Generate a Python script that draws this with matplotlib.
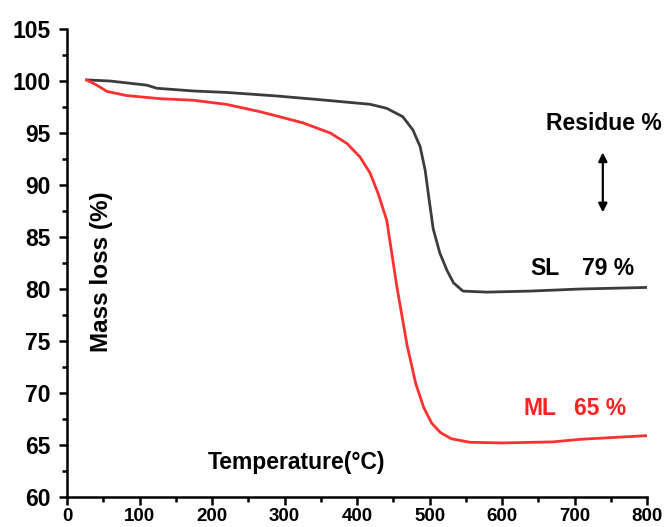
import matplotlib
matplotlib.use('Agg')
import matplotlib.pyplot as plt
from matplotlib.ticker import MultipleLocator

plt.rcParams['font.family'] = ['Liberation Sans', 'DejaVu Sans']
plt.rcParams['font.weight'] = 'bold'

# TGA curves
sl_temp = [27, 59, 110, 124, 174, 220, 289, 349, 418, 441, 463, 477, 487, 494, 499,
           505, 514, 524, 533, 546, 579, 639, 708, 800]
sl_mass = [100.1, 100.0, 99.6, 99.3, 99.04, 98.9, 98.56, 98.2, 97.76, 97.37, 96.57, 95.3, 93.7, 91.4, 88.8,
           85.8, 83.5, 81.8, 80.6, 79.8, 79.7, 79.8, 80.0, 80.15]

ml_temp = [27, 41, 55, 82, 128, 174, 220, 266, 294, 326, 363, 386, 404, 418, 429, 441,
           455, 469, 481, 492, 503, 515, 530, 556, 601, 670, 708, 800]
ml_mass = [100.1, 99.6, 99.0, 98.6, 98.3, 98.15, 97.75, 97.05, 96.55, 95.96, 95.0, 94.0, 92.7, 91.15, 89.2, 86.6,
           80.2, 74.6, 70.9, 68.6, 67.1, 66.2, 65.6, 65.26, 65.2, 65.3, 65.55, 65.9]

xticks = [0, 100, 200, 300, 400, 500, 600, 700, 800]
yticks = [60, 65, 70, 75, 80, 85, 90, 95, 100, 105]

fig = plt.figure(figsize=(6.65, 5.27), dpi=100)
ax = fig.add_axes([0.1008, 0.0569, 0.8722, 0.8881])

ax.plot(sl_temp, sl_mass, color='#3c3c3c', lw=2.0)
ax.plot(ml_temp, ml_mass, color='#ff3030', lw=2.0)

ax.set_xlim(0, 800)
ax.set_ylim(60, 105)
ax.set_xticks(xticks)
ax.set_yticks(yticks)
ax.xaxis.set_minor_locator(MultipleLocator(50))
ax.yaxis.set_minor_locator(MultipleLocator(2.5))

for s in ['top', 'right']:
    ax.spines[s].set_visible(False)
for s in ['left', 'bottom']:
    ax.spines[s].set_linewidth(1.8)

ax.tick_params(which='major', direction='out', length=5.5, width=1.8)
ax.tick_params(which='minor', direction='out', length=3.5, width=1.8)
ax.tick_params(axis='y', which='major', labelsize=16.5, pad=6.5)
ax.tick_params(axis='x', which='major', labelsize=13.5, pad=2.5)
for lab in ax.get_xticklabels() + ax.get_yticklabels():
    lab.set_fontweight('bold')

# axis titles sit inside the plot area
ax.text(0.396, 0.073, 'Temperature(°C)', transform=ax.transAxes, fontsize=16.5,
        fontweight='bold', ha='center', va='center')
ax.text(0.059, 0.482, 'Mass loss (%)', transform=ax.transAxes, fontsize=17.5,
        fontweight='bold', ha='center', va='center', rotation=90)

ax.text(741, 95.9, 'Residue %', fontsize=16.5, fontweight='bold', ha='center', va='center')
ax.annotate('', xy=(739, 87.1), xytext=(739, 93.4),
            arrowprops=dict(arrowstyle='<|-|>', color='black', lw=1.6, mutation_scale=13))

ax.text(659, 82.0, 'SL', fontsize=16.5, fontweight='bold', ha='center', va='center')
ax.text(746, 82.0, '79 %', fontsize=16.5, fontweight='bold', ha='center', va='center')
ax.text(652, 68.55, 'ML', fontsize=16.5, fontweight='bold', ha='center', va='center', color='#ff2020')
ax.text(735, 68.55, '65 %', fontsize=16.5, fontweight='bold', ha='center', va='center', color='#ff2020')

fig.savefig('out.png', dpi=100)
